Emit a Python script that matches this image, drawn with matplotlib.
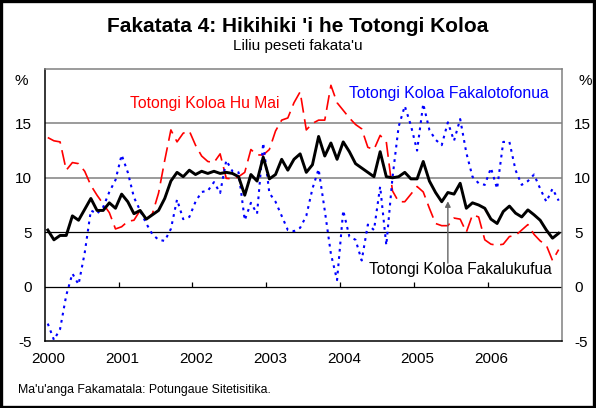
import numpy as np
import matplotlib
matplotlib.use("Agg")
import matplotlib.pyplot as plt
from matplotlib.patches import Rectangle

plt.rcParams['font.family'] = ['Liberation Sans', 'DejaVu Sans']
plt.rcParams['axes.unicode_minus'] = False

# monthly data, Jan 2000 - Dec 2006 (annual % change)
years = ['2000', '2001', '2002', '2003', '2004', '2005', '2006']

fakalukufua = [5.2, 4.3, 4.7, 4.7, 6.5, 6.1, 7.1, 8.1, 7.0, 7.0, 7.7, 7.2,
               8.5, 7.8, 6.7, 7.0, 6.2, 6.6, 7.0, 8.1, 9.7, 10.5, 10.1, 10.7,
               10.3, 10.6, 10.4, 10.6, 10.4, 10.5, 10.4, 10.1, 8.4, 10.3, 9.7, 11.9,
               9.9, 10.3, 11.7, 10.7, 11.7, 12.2, 10.5, 11.2, 13.8, 12.0, 13.2, 11.7,
               13.3, 12.4, 11.3, 10.9, 10.5, 10.1, 12.4, 10.1, 10.0, 10.1, 10.5, 9.9,
               9.9, 11.5, 9.7, 8.65, 7.8, 8.65, 8.5, 9.5, 7.2, 7.7, 7.5, 7.2,
               6.2, 5.8, 6.9, 7.4, 6.75, 6.4, 7.05, 6.6, 6.1, 5.2, 4.45, 4.9]

hu_mai = [13.7, 13.4, 13.3, 10.7, 11.4, 11.3, 10.6, 9.3, 8.4, 7.6, 6.8, 5.3,
          5.5, 6.0, 6.1, 7.0, 6.2, 6.7, 8.6, 11.6, 14.4, 13.3, 14.1, 14.3,
          13.0, 12.0, 11.5, 11.4, 12.2, 9.95, 9.9, 10.1, 10.5, 12.6, 12.1, 12.1,
          12.6, 14.3, 15.3, 15.5, 16.9, 17.9, 14.4, 15.0, 15.3, 15.3, 18.5, 16.9,
          16.2, 15.5, 14.9, 14.5, 12.8, 12.6, 13.9, 13.3, 8.8, 7.8, 7.8, 8.5,
          9.2, 8.7, 7.2, 5.8, 5.6, 5.6, 6.3, 6.2, 5.0, 6.6, 6.4, 4.3,
          3.9, 3.8, 3.9, 4.6, 4.7, 5.2, 5.7, 4.8, 4.2, 3.8, 2.4, 3.4]

fakalotofonua = [-3.4, -4.9, -3.9, -0.8, 1.2, 0.2, 3.1, 7.0, 6.7, 7.3, 8.7, 9.8,
                 12.1, 10.5, 8.2, 7.0, 5.8, 4.8, 4.3, 4.2, 5.3, 8.0, 6.2, 6.4,
                 7.8, 8.7, 8.8, 9.6, 8.6, 11.6, 10.6, 10.5, 6.1, 7.7, 6.7, 13.2,
                 8.6, 7.8, 6.5, 5.2, 5.1, 5.4, 6.5, 9.0, 10.8, 7.0, 3.0, 0.6,
                 7.0, 4.6, 4.3, 2.4, 5.7, 5.2, 9.2, 3.8, 10.0, 14.7, 16.6, 14.8,
                 12.5, 16.8, 14.4, 13.5, 13.0, 15.1, 13.4, 15.4, 12.3, 10.1, 9.5, 9.35,
                 10.9, 9.0, 13.3, 13.3, 10.7, 9.35, 9.7, 10.3, 9.0, 7.8, 9.0, 7.9]

x = np.arange(len(fakalukufua)) + 0.5

fig = plt.figure(figsize=(5.96, 4.08), dpi=100)
fig.patches.append(Rectangle((0.002, 0.003), 0.995, 0.994, transform=fig.transFigure,
                             fill=False, edgecolor='black', linewidth=2.4))

ax = fig.add_axes([0.075, 0.1642, 0.8675, 0.6667])

# grid lines
ax.axhline(15, color='#808080', lw=1.1, zorder=1)
ax.axhline(10, color='#808080', lw=1.1, zorder=1)
ax.axhline(5, color='black', lw=0.9, zorder=1)
ax.axhline(0, color='black', lw=0.9, zorder=1)
# year tick marks on the zero line
ax.vlines(np.arange(12, 84, 12), 0, 0.45, color='black', lw=0.9, zorder=1)

ax.plot(x, hu_mai, color='#ff0000', lw=1.2, dashes=(9, 4), zorder=2)
ax.plot(x, fakalotofonua, color='#0000ff', lw=1.5, dashes=(1.3, 2.2), zorder=2)
ax.plot(x, fakalukufua, color='black', lw=2.1, zorder=3)

ax.set_xlim(0, 84)
ax.set_ylim(-5, 20)
ax.set_yticks([-5, 0, 5, 10, 15])
ax.set_xticks(np.arange(0, 84, 12) + 0.6)
ax.set_xticklabels(years)
ax.tick_params(axis='both', length=0, labelsize=11)
ax.tick_params(axis='y', labelright=True, pad=9)
ax.tick_params(axis='x', pad=8)
for s in ['top', 'right']:
    ax.spines[s].set_color('#808080')
for s in ax.spines.values():
    s.set_linewidth(1.1)

ax.text(-0.045, 0.955, '%', transform=ax.transAxes, fontsize=11, ha='center', va='center')
ax.text(1.045, 0.955, '%', transform=ax.transAxes, fontsize=11, ha='center', va='center')

ax.text(0.165, 0.855, 'Totongi Koloa Hu Mai', transform=ax.transAxes, color='#ff0000', fontsize=11.3)
ax.text(0.588, 0.895, 'Totongi Koloa Fakalotofonua', transform=ax.transAxes, color='#0000ff', fontsize=11.3)
ax.text(0.628, 0.245, 'Totongi Koloa Fakalukufua', transform=ax.transAxes, color='black', fontsize=11.2)
ax.annotate('', xy=(65.5, 8.1), xytext=(65.5, 1.9),
            arrowprops=dict(arrowstyle='-|>', color='#666666', lw=1, mutation_scale=8))

fig.text(0.5, 0.936, "Fakatata 4: Hikihiki 'i he Totongi Koloa", ha='center', va='center',
         fontsize=15, fontweight='bold')
fig.text(0.5, 0.887, "Liliu peseti fakata'u", ha='center', va='center', fontsize=11)
fig.text(0.03, 0.045, "Ma'u'anga Fakamatala: Potungaue Sitetisitika.", ha='left', va='center', fontsize=8.8)

fig.savefig('out.png', dpi=100)
